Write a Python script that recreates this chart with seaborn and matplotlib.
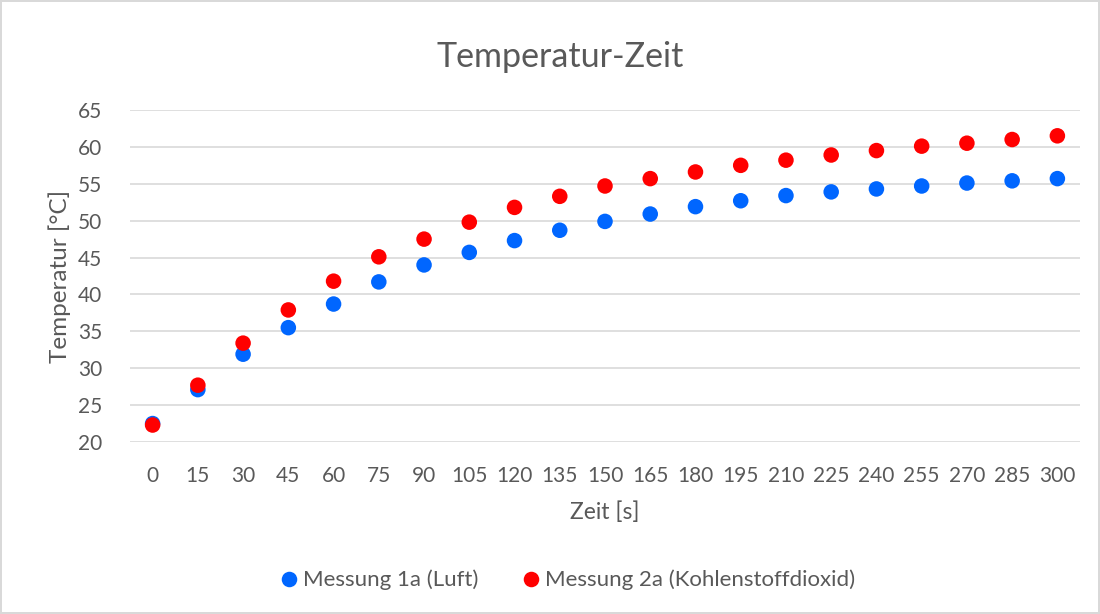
import matplotlib
matplotlib.use("Agg")
import matplotlib.pyplot as plt
import seaborn as sns
import pandas as pd

zeit = [0, 15, 30, 45, 60, 75, 90, 105, 120, 135, 150, 165, 180, 195, 210, 225, 240, 255, 270, 285, 300]
luft = [22.5, 27.1, 31.9, 35.5, 38.7, 41.7, 44.0, 45.7, 47.3, 48.7, 49.9, 50.9, 51.9, 52.7, 53.4, 53.9, 54.3, 54.7, 55.1, 55.4, 55.7]
co2 = [22.3, 27.7, 33.4, 37.9, 41.8, 45.1, 47.5, 49.8, 51.8, 53.3, 54.7, 55.7, 56.6, 57.5, 58.2, 58.9, 59.5, 60.1, 60.5, 61.0, 61.5]
series_names = ["Messung 1a (Luft)", "Messung 2a (Kohlenstoffdioxid)"]
y_ticks = [20, 25, 30, 35, 40, 45, 50, 55, 60, 65]

df = pd.DataFrame({
    "Zeit": zeit * 2,
    "Temperatur": luft + co2,
    "Serie": [series_names[0]] * len(zeit) + [series_names[1]] * len(zeit),
})

sns.set_theme(style="white")
plt.rcParams["font.family"] = ["Lato", "DejaVu Sans"]
txt = "#595959"

fig = plt.figure(figsize=(11, 6.14), dpi=100)
fig.patch.set_facecolor("white")
fig.patch.set_edgecolor("#d9d9d9")
fig.patch.set_linewidth(1.5)
ax = fig.add_axes([130 / 1100, 1 - 442 / 614, 950 / 1100, 332 / 614])

sns.scatterplot(data=df, x="Zeit", y="Temperatur", hue="Serie",
                palette={series_names[0]: "#0066ff", series_names[1]: "#ff0000"},
                s=125, linewidth=0, ax=ax, legend=True, zorder=3)

ax.set_xlim(-7.5, 307.5)
ax.set_ylim(20, 65)
ax.set_xticks(zeit)
ax.set_yticks(y_ticks)
ax.grid(axis="y", color="#d9d9d9", linewidth=1.2, zorder=0)
ax.grid(axis="x", visible=False)
for s in ax.spines.values():
    s.set_visible(False)
ax.tick_params(axis="both", length=0, labelsize=15, labelcolor=txt)
ax.tick_params(axis="x", pad=17)
ax.tick_params(axis="y", pad=20)
ax.set_xlabel("Zeit [s]", fontsize=16.5, color=txt, labelpad=11)
ax.set_ylabel("Temperatur [°C]", fontsize=17.5, color=txt, labelpad=5)
fig.text(560 / 1100, 1 - 57 / 614, "Temperatur-Zeit", ha="center", va="center", fontsize=24.5, color=txt)

handles, labels = ax.get_legend_handles_labels()
ax.legend_.remove()
fig.legend(handles, labels, loc="center", bbox_to_anchor=(0.51, 1 - 580 / 614), ncol=2,
           frameon=False, fontsize=16, labelcolor=txt, handletextpad=-0.4,
           columnspacing=1.4, markerscale=1.0)

fig.savefig("out.png", dpi=100, facecolor=fig.get_facecolor(), edgecolor=fig.get_edgecolor())
